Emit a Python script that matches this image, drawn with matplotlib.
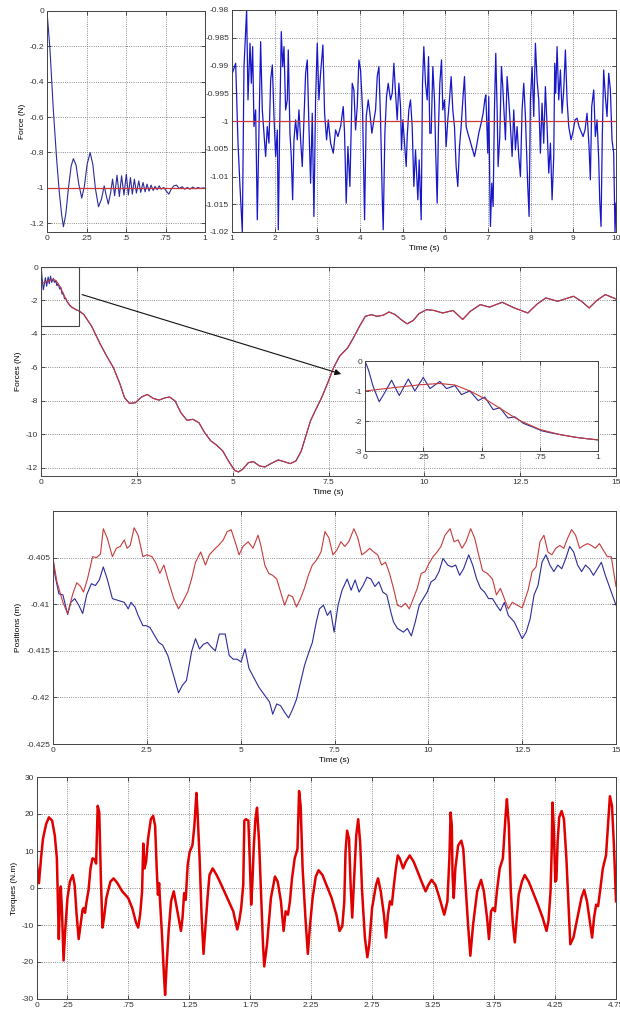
import numpy as np
import matplotlib.pyplot as plt
from matplotlib.patches import Rectangle

plt.rcParams['font.family'] = ['Liberation Sans', 'DejaVu Sans']
plt.rcParams['font.size'] = 6
plt.rcParams['axes.unicode_minus'] = False

# ---- force, first second (top left) ----
f1_t = [0, 0.019, 0.040, 0.061, 0.078, 0.093, 0.104, 0.119, 0.136, 0.153, 0.167, 0.184,
        0.201, 0.220, 0.237, 0.254, 0.273, 0.290, 0.307, 0.326, 0.345, 0.362, 0.375, 0.388,
        0.403, 0.415, 0.428, 0.443, 0.458, 0.472, 0.487, 0.502, 0.515, 0.528, 0.540, 0.553,
        0.566, 0.581, 0.593, 0.608, 0.621, 0.633, 0.646, 0.659, 0.672, 0.684, 0.697, 0.710,
        0.722, 0.739, 0.754, 0.771, 0.786, 0.803, 0.820, 0.837, 0.856, 0.871, 0.888, 0.905,
        0.922, 0.939, 0.956, 0.972, 0.987, 1.0]
f1_f = [0, -0.22, -0.557, -0.839, -1.026, -1.154, -1.22, -1.148, -0.998, -0.876, -0.835, -0.872,
        -0.979, -1.058, -0.989, -0.867, -0.801, -0.867, -1.008, -1.107, -1.064, -0.989, -1.045, -1.092,
        -1.026, -0.951, -1.045, -0.929, -1.049, -0.932, -1.041, -0.923, -1.041, -0.942, -1.036, -0.951,
        -1.030, -0.961, -1.026, -0.970, -1.023, -0.979, -1.019, -0.985, -1.015, -0.992, -1.011, -0.989,
        -1.008, -0.998, -1.017, -1.036, -1.008, -0.989, -0.985, -1.004, -0.994, -1.008, -0.998, -1.008,
        -0.996, -1.006, -0.998, -1.004, -1.0, -1.002]

# ---- force, 1 to 10 s (top right) ----
f2_t = [1.008, 1.086, 1.141, 1.187, 1.242, 1.281, 1.343, 1.375, 1.422, 1.453, 1.484, 1.515,
        1.554, 1.593, 1.632, 1.671, 1.710, 1.749, 1.788, 1.827, 1.866, 1.906, 1.945, 1.984,
        2.023, 2.062, 2.085, 2.124, 2.155, 2.187, 2.218, 2.257, 2.296, 2.319, 2.358, 2.389,
        2.421, 2.452, 2.491, 2.530, 2.569, 2.608, 2.647, 2.686, 2.725, 2.764, 2.803, 2.842,
        2.881, 2.920, 2.959, 2.998, 3.037, 3.076, 3.131, 3.170, 3.217, 3.256, 3.311, 3.373,
        3.428, 3.482, 3.545, 3.607, 3.638, 3.677, 3.717, 3.763, 3.818, 3.857, 3.896, 3.935,
        3.974, 4.013, 4.060, 4.107, 4.146, 4.193, 4.232, 4.279, 4.326, 4.365, 4.404, 4.443,
        4.482, 4.521, 4.544, 4.583, 4.622, 4.661, 4.716, 4.755, 4.794, 4.833, 4.872, 4.911,
        4.950, 4.973, 5.004, 5.044, 5.083, 5.106, 5.145, 5.184, 5.223, 5.262, 5.301, 5.356,
        5.387, 5.434, 5.465, 5.496, 5.535, 5.575, 5.606, 5.637, 5.668, 5.707, 5.746, 5.777,
        5.809, 5.840, 5.871, 5.910, 5.941, 5.980, 6.019, 6.058, 6.097, 6.136, 6.175, 6.214,
        6.253, 6.292, 6.332, 6.371, 6.410, 6.449, 6.488, 6.527, 6.574, 6.628, 6.683, 6.730,
        6.784, 6.839, 6.886, 6.925, 6.948, 6.964, 6.995, 7.018, 7.042, 7.057, 7.089, 7.120,
        7.151, 7.182, 7.214, 7.237, 7.276, 7.315, 7.346, 7.378, 7.409, 7.448, 7.487, 7.526,
        7.565, 7.604, 7.643, 7.682, 7.721, 7.760, 7.799, 7.838, 7.877, 7.932, 7.963, 7.994,
        8.033, 8.072, 8.111, 8.150, 8.189, 8.228, 8.267, 8.306, 8.345, 8.385, 8.424, 8.463,
        8.502, 8.541, 8.564, 8.587, 8.619, 8.658, 8.697, 8.736, 8.775, 8.814, 8.853, 8.892,
        8.947, 8.993, 9.040, 9.087, 9.134, 9.181, 9.228, 9.274, 9.321, 9.368, 9.399, 9.431,
        9.478, 9.516, 9.556, 9.595, 9.618, 9.649, 9.680, 9.711, 9.751, 9.790, 9.829, 9.868,
        9.907, 9.946, 9.977, 10.0]
f2_f = [-0.9914, -0.9896, -1.004, -1.0118, -1.02, -0.9902, -0.98, -0.9962, -0.986, -0.9932, -0.9866, -1.001,
        -0.998, -1.0178, -1.0022, -0.9857, -0.998, -1.0022, -1.0064, -1.001, -1.004, -0.9926, -0.9899, -0.9992,
        -1.0064, -1.0016, -1.0196, -0.998, -0.9839, -0.9902, -0.9866, -0.998, -0.9962, -0.9872, -1.0022, -1.0064,
        -1.0142, -1.0034, -0.9998, -1.0034, -0.998, -1.0034, -1.0082, -0.9998, -0.9914, -0.989, -1.001, -1.0112,
        -0.9986, -1.0172, -0.9962, -0.986, -0.9962, -0.9914, -0.9863, -0.9986, -1.0034, -0.9998, -1.004, -1.0058,
        -1.0016, -1.0028, -1.001, -0.9974, -1.0022, -1.0148, -1.0046, -1.0118, -0.9932, -0.9944, -1.0016, -0.9974,
        -0.989, -0.9908, -0.998, -1.0178, -0.9992, -0.9962, -0.9986, -1.0022, -0.9998, -0.998, -0.992, -0.9902,
        -0.9998, -1.0136, -1.0196, -1.0022, -0.9956, -0.9932, -0.9962, -0.995, -0.9896, -0.995, -0.9998, -0.9932,
        -0.9974, -1.0052, -0.9998, -1.004, -1.0082, -1.0028, -0.998, -0.9962, -1.001, -1.0118, -1.0052, -1.0142,
        -1.007, -1.0178, -0.9932, -0.9866, -0.9932, -0.9962, -0.9884, -1.0022, -1.0022, -0.9902, -0.9962, -1.0064,
        -1.0148, -1.001, -0.9932, -0.989, -0.998, -0.9962, -1.0046, -0.9998, -0.9962, -0.992, -0.998, -1.001,
        -1.0082, -1.0118, -1.0046, -1.001, -0.9962, -0.992, -1.001, -1.0022, -1.0034, -1.0049, -1.0064, -1.0046,
        -1.0022, -1.0004, -0.9986, -0.9962, -0.9953, -0.9986, -1.0058, -0.9956, -1.0118, -1.019, -1.0112, -1.0154,
        -0.998, -0.9878, -0.998, -1.0082, -1.0028, -0.9902, -0.9938, -0.9986, -1.0034, -0.992, -0.9962, -1.001,
        -1.0064, -0.998, -1.0052, -1.001, -1.0064, -1.01, -0.998, -0.9932, -0.9992, -1.0118, -1.0172, -0.9962,
        -0.9902, -0.9992, -0.986, -0.9926, -0.9962, -1.0058, -0.9968, -1.004, -0.9938, -1.001, -1.0094, -1.004,
        -1.0142, -1.0064, -0.9896, -0.995, -0.9866, -0.9962, -0.9908, -0.9986, -0.9944, -0.9872, -0.9962, -1.001,
        -1.0034, -1.0019, -0.9998, -0.9995, -1.001, -1.0019, -1.0028, -1.0016, -0.9986, -1.0046, -1.0106, -0.9974,
        -0.9944, -1.0028, -0.9998, -1.007, -1.0142, -1.019, -1.0022, -0.9908, -0.9956, -0.9992, -0.9914, -0.9944,
        -1.0034, -1.0058, -1.02, -1.0148]
ref_force = [-1, -1]

# ---- forces over 15 s (second panel) ----
fr_t = [0, 0.12, 0.24, 0.32, 0.386, 0.45, 0.51, 0.58, 0.66, 0.75, 0.835, 0.92, 1.0,
        1.12, 1.32, 1.53, 1.69, 1.89, 2.05, 2.18, 2.31, 2.46, 2.62, 2.77, 2.93, 3.08, 3.24,
        3.36, 3.5, 3.65, 3.81, 3.96, 4.12, 4.27, 4.43, 4.58, 4.74, 4.89, 5.05, 5.15, 5.26,
        5.41, 5.54, 5.7, 5.84, 6.01, 6.19, 6.34, 6.5, 6.65, 6.79, 6.91, 7.03, 7.17, 7.32,
        7.48, 7.63, 7.79, 8.0, 8.15, 8.31, 8.46, 8.62, 8.77, 8.93, 9.08, 9.24, 9.39, 9.55,
        9.71, 9.86, 10.06, 10.25, 10.48, 10.75, 11.0, 11.2, 11.46, 11.7, 12.03, 12.35, 12.7,
        12.95, 13.17, 13.48, 13.89, 14.1, 14.3, 14.5, 14.72, 15.0]
fr_f = [-1.0, -0.89, -0.79, -0.75, -0.8, -1.0, -1.24, -1.58, -1.97, -2.28, -2.45, -2.56, -2.63,
        -2.85, -3.54, -4.54, -5.23, -6.03, -6.93, -7.82, -8.16, -8.12, -7.78, -7.62, -7.86, -7.96, -7.82,
        -7.78, -8.02, -8.72, -9.17, -9.11, -9.31, -9.91, -10.4, -10.65, -11.0, -11.6, -12.16, -12.26, -12.1,
        -11.7, -11.64, -11.9, -11.96, -11.74, -11.54, -11.64, -11.76, -11.6, -11.0, -10.1, -9.2, -8.52, -7.82,
        -6.93, -6.03, -5.33, -4.84, -4.24, -3.54, -2.95, -2.85, -2.95, -2.88, -2.69, -2.85, -3.14, -3.4,
        -3.2, -2.79, -2.55, -2.6, -2.75, -2.6, -3.14, -2.65, -2.25, -2.4, -2.11, -2.45, -2.75,
        -2.2, -1.85, -2.05, -1.75, -2.05, -2.45, -2.0, -1.65, -1.91]
fb_t = [0, 0.015, 0.035, 0.061, 0.085, 0.114, 0.147, 0.186, 0.214, 0.25, 0.279, 0.321, 0.35,
        0.386, 0.414, 0.45, 0.486, 0.514, 0.55, 0.579, 0.614, 0.643, 0.68, 0.72, 0.76, 0.8,
        0.85, 0.9, 0.95, 1.0]
fb_f = [0, -0.3, -0.85, -1.36, -1.05, -0.64, -1.15, -0.6, -1.0, -0.55, -0.92, -0.68, -0.92,
        -0.82, -1.12, -1.0, -1.32, -1.2, -1.62, -1.56, -1.9, -1.86, -2.08, -2.2, -2.33, -2.4,
        -2.47, -2.54, -2.59, -2.63]

# ---- positions ----
pr_t = [0, 0.105, 0.264, 0.39, 0.527, 0.633, 0.738, 0.812, 0.918, 1.055, 1.160, 1.266, 1.340,
        1.445, 1.582, 1.688, 1.793, 1.899, 1.973, 2.057, 2.162, 2.268, 2.395, 2.5, 2.637, 2.743,
        2.848, 2.954, 3.059, 3.217, 3.344, 3.449, 3.587, 3.692, 3.797, 3.935, 4.061, 4.167, 4.325,
        4.409, 4.536, 4.641, 4.747, 4.852, 4.958, 5.063, 5.2, 5.327, 5.464, 5.538, 5.643, 5.749,
        5.854, 5.96, 6.087, 6.171, 6.276, 6.382, 6.487, 6.593, 6.698, 6.804, 6.909, 7.015, 7.141,
        7.247, 7.352, 7.458, 7.563, 7.669, 7.774, 7.880, 8.017, 8.122, 8.228, 8.333, 8.439, 8.544,
        8.650, 8.755, 8.861, 8.966, 9.072, 9.177, 9.283, 9.388, 9.494, 9.599, 9.705, 9.810, 9.916,
        10.021, 10.127, 10.232, 10.338, 10.443, 10.580, 10.686, 10.791, 10.897, 11.002, 11.129, 11.234,
        11.340, 11.445, 11.572, 11.709, 11.814, 11.920, 12.025, 12.131, 12.236, 12.5, 12.658, 12.764,
        12.869, 12.975, 13.080, 13.186, 13.291, 13.397, 13.502, 13.608, 13.713, 13.819, 13.924, 14.030,
        14.135, 14.241, 14.346, 14.451, 14.557, 14.662, 14.768, 14.873, 15.0]
pr_p = [-0.4051, -0.4076, -0.4098, -0.411, -0.4089, -0.4077, -0.4081, -0.4087, -0.4073, -0.4049, -0.405, -0.4046, -0.4019,
        -0.4029, -0.4049, -0.404, -0.4038, -0.4031, -0.404, -0.4037, -0.4018, -0.4026, -0.4049, -0.4047, -0.4049, -0.4056,
        -0.4067, -0.4058, -0.4073, -0.4094, -0.4105, -0.4098, -0.4087, -0.4073, -0.4055, -0.4044, -0.4058, -0.4047, -0.404,
        -0.4037, -0.4031, -0.4022, -0.402, -0.4033, -0.4047, -0.4038, -0.4033, -0.404, -0.4026, -0.4037, -0.4058, -0.4067,
        -0.4069, -0.4073, -0.409, -0.4101, -0.409, -0.4092, -0.4103, -0.4094, -0.4083, -0.4069, -0.4058, -0.4053, -0.4044,
        -0.4022, -0.4029, -0.4047, -0.4042, -0.4033, -0.4038, -0.4033, -0.4019, -0.4029, -0.4047, -0.4044, -0.404, -0.4044,
        -0.4047, -0.4058, -0.4055, -0.4067, -0.4083, -0.4101, -0.4103, -0.4099, -0.4105, -0.4094, -0.4083, -0.4067, -0.4065,
        -0.4056, -0.4049, -0.4044, -0.4038, -0.4026, -0.4019, -0.4033, -0.4031, -0.404, -0.4033, -0.4019, -0.4029,
        -0.4047, -0.4064, -0.4067, -0.4073, -0.409, -0.4083, -0.4094, -0.4105, -0.4098, -0.4104, -0.4085, -0.4065,
        -0.406, -0.4033, -0.4026, -0.4044, -0.4047, -0.404, -0.4037, -0.404, -0.4029, -0.402, -0.4026, -0.404,
        -0.4037, -0.4035, -0.4037, -0.404, -0.4035, -0.4042, -0.4049, -0.4049, -0.4081]
pb_t = [0, 0.053, 0.158, 0.264, 0.39, 0.475, 0.580, 0.686, 0.791, 0.897, 1.023, 1.129, 1.234,
        1.340, 1.445, 1.582, 1.741, 1.899, 2.004, 2.078, 2.184, 2.268, 2.395, 2.479, 2.585, 2.711,
        2.817, 2.922, 3.059, 3.217, 3.344, 3.449, 3.555, 3.692, 3.797, 3.903, 4.009, 4.114, 4.220,
        4.325, 4.431, 4.589, 4.694, 4.800, 4.905, 5.011, 5.116, 5.222, 5.327, 5.485, 5.644, 5.770,
        5.854, 5.960, 6.066, 6.171, 6.277, 6.382, 6.488, 6.593, 6.699, 6.804, 6.910, 7.015, 7.1,
        7.205, 7.310, 7.395, 7.490, 7.595, 7.701, 7.838, 7.943, 8.049, 8.154, 8.260, 8.365, 8.471,
        8.576, 8.682, 8.787, 8.893, 8.998, 9.072, 9.178, 9.336, 9.441, 9.547, 9.652, 9.758, 9.863,
        9.969, 10.074, 10.180, 10.285, 10.391, 10.517, 10.623, 10.728, 10.834, 10.939, 11.076, 11.182,
        11.287, 11.393, 11.498, 11.604, 11.709, 11.815, 11.920, 12.026, 12.131, 12.289, 12.5, 12.606,
        12.711, 12.817, 12.922, 13.028, 13.133, 13.239, 13.344, 13.450, 13.555, 13.661, 13.766, 13.872,
        13.977, 14.083, 14.188, 14.294, 14.399, 14.505, 14.610, 14.716, 14.874, 15.0]
pb_p = [-0.4051, -0.4069, -0.4089, -0.409, -0.4111, -0.4098, -0.4094, -0.4101, -0.411, -0.409, -0.4078, -0.408, -0.4074,
        -0.406, -0.4073, -0.4094, -0.4096, -0.4098, -0.4105, -0.4098, -0.4103, -0.4112, -0.4123, -0.4123, -0.4125, -0.4134,
        -0.4141, -0.4144, -0.4155, -0.4177, -0.4195, -0.4187, -0.4182, -0.4151, -0.4137, -0.4148, -0.4143, -0.4141, -0.4146,
        -0.415, -0.4132, -0.4132, -0.4155, -0.4159, -0.4159, -0.4162, -0.4148, -0.4169, -0.4177, -0.4189, -0.4198, -0.4205,
        -0.4218, -0.4207, -0.4209, -0.4216, -0.4222, -0.4213, -0.4202, -0.4184, -0.4166, -0.4153, -0.4141, -0.4119, -0.4105,
        -0.4101, -0.4112, -0.4107, -0.413, -0.4101, -0.4085, -0.4073, -0.4085, -0.4074, -0.4087, -0.408, -0.4071, -0.4073,
        -0.4081, -0.4076, -0.4087, -0.409, -0.4108, -0.4119, -0.4126, -0.413, -0.4126, -0.4134, -0.4119, -0.4101, -0.4094,
        -0.4087, -0.4076, -0.4073, -0.4065, -0.4051, -0.4058, -0.406, -0.4058, -0.4069, -0.4062, -0.4047, -0.4058,
        -0.4073, -0.4083, -0.4087, -0.4094, -0.4094, -0.4101, -0.4107, -0.4098, -0.4112, -0.4119, -0.4137, -0.413,
        -0.4116, -0.409, -0.408, -0.4055, -0.4047, -0.4058, -0.4065, -0.4058, -0.4062, -0.4051, -0.4038, -0.4044,
        -0.4058, -0.4065, -0.4058, -0.4062, -0.4069, -0.4062, -0.4055, -0.4069, -0.4087, -0.4101]

# ---- torques ----
tq_t = [0, 0.016, 0.033, 0.049, 0.075, 0.098, 0.124, 0.146, 0.163, 0.172, 0.179, 0.185, 0.195,
        0.205, 0.218, 0.231, 0.250, 0.270, 0.293, 0.309, 0.325, 0.342, 0.358, 0.374, 0.384, 0.394,
        0.407, 0.423, 0.439, 0.455, 0.472, 0.485, 0.498, 0.511, 0.524, 0.537, 0.550, 0.569, 0.602,
        0.628, 0.660, 0.699, 0.748, 0.781, 0.813, 0.830, 0.846, 0.862, 0.872, 0.882, 0.895, 0.911,
        0.934, 0.953, 0.969, 0.982, 0.992, 1.002, 1.008, 1.025, 1.041, 1.051, 1.064, 1.080, 1.100,
        1.122, 1.142, 1.161, 1.181, 1.194, 1.207, 1.220, 1.236, 1.252, 1.275, 1.291, 1.308, 1.317,
        1.334, 1.350, 1.366, 1.383, 1.399, 1.415, 1.441, 1.474, 1.513, 1.561, 1.610, 1.643, 1.659,
        1.675, 1.692, 1.701, 1.714, 1.734, 1.747, 1.757, 1.766, 1.779, 1.792, 1.805, 1.822, 1.838,
        1.854, 1.864, 1.887, 1.919, 1.952, 1.975, 2.001, 2.023, 2.040, 2.059, 2.075, 2.092, 2.114,
        2.137, 2.150, 2.163, 2.179, 2.202, 2.222, 2.238, 2.261, 2.287, 2.310, 2.342, 2.375, 2.417,
        2.456, 2.482, 2.505, 2.521, 2.531, 2.544, 2.560, 2.573, 2.586, 2.599, 2.619, 2.635, 2.651,
        2.667, 2.690, 2.710, 2.726, 2.749, 2.781, 2.798, 2.820, 2.846, 2.863, 2.879, 2.895, 2.911,
        2.928, 2.944, 2.960, 2.976, 3.003, 3.025, 3.058, 3.090, 3.123, 3.155, 3.188, 3.211, 3.237,
        3.269, 3.302, 3.341, 3.367, 3.383, 3.393, 3.403, 3.409, 3.419, 3.432, 3.455, 3.481, 3.497,
        3.516, 3.536, 3.555, 3.578, 3.611, 3.643, 3.666, 3.692, 3.708, 3.725, 3.741, 3.757, 3.773,
        3.796, 3.822, 3.845, 3.855, 3.871, 3.887, 3.904, 3.920, 3.936, 3.952, 3.978, 4.001, 4.034,
        4.066, 4.109, 4.148, 4.180, 4.196, 4.213, 4.222, 4.229, 4.239, 4.252, 4.261, 4.271, 4.284,
        4.304, 4.323, 4.343, 4.362, 4.375, 4.401, 4.434, 4.466, 4.489, 4.512, 4.538, 4.554, 4.570,
        4.587, 4.603, 4.619, 4.642, 4.668, 4.684, 4.700, 4.717, 4.733, 4.750]
tq_v = [6.2, 1.3, 8.0, 13.3, 17.3, 19.1, 18.2, 14.2, 8.0, -4.5, -13.8, -6.3, 0.4,
        -6.3, -19.6, -11.6, -2.7, 1.7, 3.5, 0.8, -7.2, -13.8, -9.8, -5.8, -5.4, -6.7,
        -3.6, -0.5, 5.3, 8.0, 7.8, 6.6, 22.2, 20.4, 2.6, -10.7, -8.0, -2.7, 1.7,
        2.6, 1.3, -0.9, -2.7, -5.4, -9.4, -10.7, -7.2, -0.9, 12.0, 5.3, 7.1, 13.3,
        18.6, 19.5, 16.8, 5.3, -1.8, 1.3, -2.7, -12.5, -23.2, -28.9, -20.5, -11.6, -3.6,
        -0.9, -4.5, -8.0, -11.6, -8.0, -1.4, -3.2, 6.2, 9.7, 11.5, 16.8, 25.7, 20.4,
        8.0, -7.2, -17.8, -9.8, -2.7, 3.5, 5.3, 3.5, 0.8, -2.7, -6.3, -11.2, -8.9,
        -5.4, 0.8, 18.2, 18.6, 18.2, 6.2, -4.5, 0.8, 11.5, 18.6, 21.7, 12.4, -1.8,
        -15.2, -21.2, -15.2, -2.7, 3.1, 1.7, -3.6, -11.6, -6.3, -7.2, -3.6, 2.6, 8.0,
        10.6, 26.2, 22.2, 5.3, -8.0, -17.8, -10.7, -2.7, 3.1, 4.8, 3.5, 0.8, -2.7,
        -7.2, -11.6, -10.3, -3.6, 9.7, 15.5, 13.3, 0.8, -8.0, 0.8, 14.2, 18.6, 12.4,
        -0.9, -13.4, -18.7, -15.2, -5.4, 0.8, 2.6, -0.9, -7.2, -13.4, -7.2, -3.6, -4.5,
        0.8, 5.3, 8.8, 8.0, 5.3, 7.1, 8.8, 7.1, 4.4, 1.7, -0.9, 0.8, 2.2,
        0.8, -2.7, -7.2, -3.6, 8.0, 20.4, 16.8, 3.5, -2.7, 5.3, 11.5, 12.8, 10.6,
        0.8, -9.8, -18.3, -9.8, -0.9, 2.2, -0.9, -8.0, -13.8, -6.3, -5.4, -6.3, -0.9,
        5.3, 8.0, 20.0, 24.0, 16.8, -0.9, -9.8, -14.7, -8.0, -1.8, 1.7, 3.5, 1.7,
        -0.9, -4.5, -8.0, -11.6, -8.9, -0.9, 9.7, 23.1, 16.8, 1.7, 2.2, 12.4, 19.1,
        20.8, 18.6, 8.0, -5.4, -15.2, -13.4, -8.0, -2.7, -0.5, -3.6, -9.8, -13.4, -8.0,
        -4.5, -4.9, -0.9, 5.3, 8.8, 16.8, 24.8, 22.2, 11.5, -3.6]

W, H = 620.0, 1015.0
def box(left, top, right, bottom):
    return [left / W, 1 - bottom / H, (right - left) / W, (bottom - top) / H]

BLUE = '#2b2b9c'
RED = '#c83a3a'
GRID = dict(linestyle=':', color='#666666', linewidth=0.6)

def style(ax):
    ax.tick_params(direction='in', length=3, width=0.6, labelsize=6, pad=2,
                   colors='#333333', top=True, right=True)
    ax.grid(True, **GRID)
    for s in ax.spines.values():
        s.set_linewidth(0.7)
        s.set_color('#444444')

fig = plt.figure(figsize=(6.2, 10.15), dpi=100)

# top left
ax1 = fig.add_axes(box(47, 11, 205, 232))
ax1.plot(f1_t, f1_f, color=BLUE, lw=0.8)
ax1.plot([0, 1], ref_force, color=RED, lw=0.9)
ax1.set_xlim(0, 1)
ax1.set_ylim(-1.25, 0)
ax1.set_xticks([0, 0.25, 0.5, 0.75, 1])
ax1.set_xticklabels(['0', '.25', '.5', '.75', '1'])
ax1.set_yticks([0, -0.2, -0.4, -0.6, -0.8, -1, -1.2])
ax1.set_yticklabels(['0', '-0.2', '-0.4', '-0.6', '-0.8', '-1', '-1.2'])
ax1.set_ylabel('Force (N)', fontsize=6, labelpad=3)
style(ax1)

# top right
ax2 = fig.add_axes(box(232, 10, 616, 232))
ax2.plot(f2_t, f2_f, color='#1717c8', lw=0.9)
ax2.plot([1, 10], ref_force, color=RED, lw=0.9)
ax2.set_xlim(1, 10)
ax2.set_ylim(-1.02, -0.98)
ax2.set_xticks(range(1, 11))
yt2 = [-0.98, -0.985, -0.99, -0.995, -1, -1.005, -1.01, -1.015, -1.02]
ax2.set_yticks(yt2)
ax2.set_yticklabels(['-0.98', '-0.985', '-0.99', '-0.995', '-1', '-1.005', '-1.01', '-1.015', '-1.02'])
ax2.set_xlabel('Time (s)', fontsize=6, labelpad=2)
style(ax2)

# forces over 15 s
ax3 = fig.add_axes(box(41, 267, 616, 476))
fb_full_t = fb_t + [t for t in fr_t if t > 1]
fb_full_f = fb_f + [f for t, f in zip(fr_t, fr_f) if t > 1]
ax3.plot(fb_full_t, fb_full_f, color=BLUE, lw=0.8)
ax3.plot(fr_t, fr_f, color=RED, lw=0.8)
ax3.set_xlim(0, 15)
ax3.set_ylim(-12.5, 0)
ax3.set_xticks([0, 2.5, 5, 7.5, 10, 12.5, 15])
ax3.set_xticklabels(['0', '2.5', '5', '7.5', '10', '12.5', '15'])
ax3.set_yticks([0, -2, -4, -6, -8, -10, -12])
ax3.set_ylabel('Forces (N)', fontsize=6, labelpad=3)
ax3.set_xlabel('Time (s)', fontsize=6, labelpad=2)
style(ax3)
ax3.add_patch(Rectangle((0, -3.55), 1, 3.55, fill=False, ec='#444444', lw=0.8, zorder=5))
ax3.annotate('', xy=(7.9, -6.45), xytext=(1.0, -1.6),
             arrowprops=dict(arrowstyle='-|>', color='#111111', lw=0.8, mutation_scale=9))

# inset zoom
axi = fig.add_axes(box(365, 361, 598, 451))
axi.plot(fb_t, fb_f, color=BLUE, lw=0.8)
axi.plot(fr_t, fr_f, color=RED, lw=0.8)
axi.set_xlim(0, 1)
axi.set_ylim(-3, 0)
axi.set_xticks([0, 0.25, 0.5, 0.75, 1])
axi.set_xticklabels(['0', '.25', '.5', '.75', '1'])
axi.set_yticks([0, -1, -2, -3])
style(axi)

# positions
ax4 = fig.add_axes(box(53, 511, 616, 744))
ax4.plot(pb_t, pb_p, color=BLUE, lw=0.8)
ax4.plot(pr_t, pr_p, color=RED, lw=0.8)
ax4.set_xlim(0, 15)
ax4.set_ylim(-0.425, -0.4)
ax4.set_xticks([0, 2.5, 5, 7.5, 10, 12.5, 15])
ax4.set_xticklabels(['0', '2.5', '5', '7.5', '10', '12.5', '15'])
ax4.set_yticks([-0.405, -0.41, -0.415, -0.42, -0.425])
ax4.set_yticklabels(['-0.405', '-0.41', '-0.415', '-0.42', '-0.425'])
ax4.set_ylabel('Positions (m)', fontsize=6, labelpad=3)
ax4.set_xlabel('Time (s)', fontsize=6, labelpad=2)
style(ax4)

# torques
ax5 = fig.add_axes(box(37, 777, 616, 999))
ax5.plot(tq_t, tq_v, color='#e00000', lw=1.8)
ax5.set_xlim(0, 4.75)
ax5.set_ylim(-30, 30)
xt5 = [0, 0.25, 0.75, 1.25, 1.75, 2.25, 2.75, 3.25, 3.75, 4.25, 4.75]
ax5.set_xticks(xt5)
ax5.set_xticklabels(['0', '.25', '.75', '1.25', '1.75', '2.25', '2.75', '3.25', '3.75', '4.25', '4.75'])
ax5.set_yticks([30, 20, 10, 0, -10, -20, -30])
ax5.set_ylabel('Torques (N.m)', fontsize=6, labelpad=3)
style(ax5)

fig.savefig('out.png', dpi=100)
